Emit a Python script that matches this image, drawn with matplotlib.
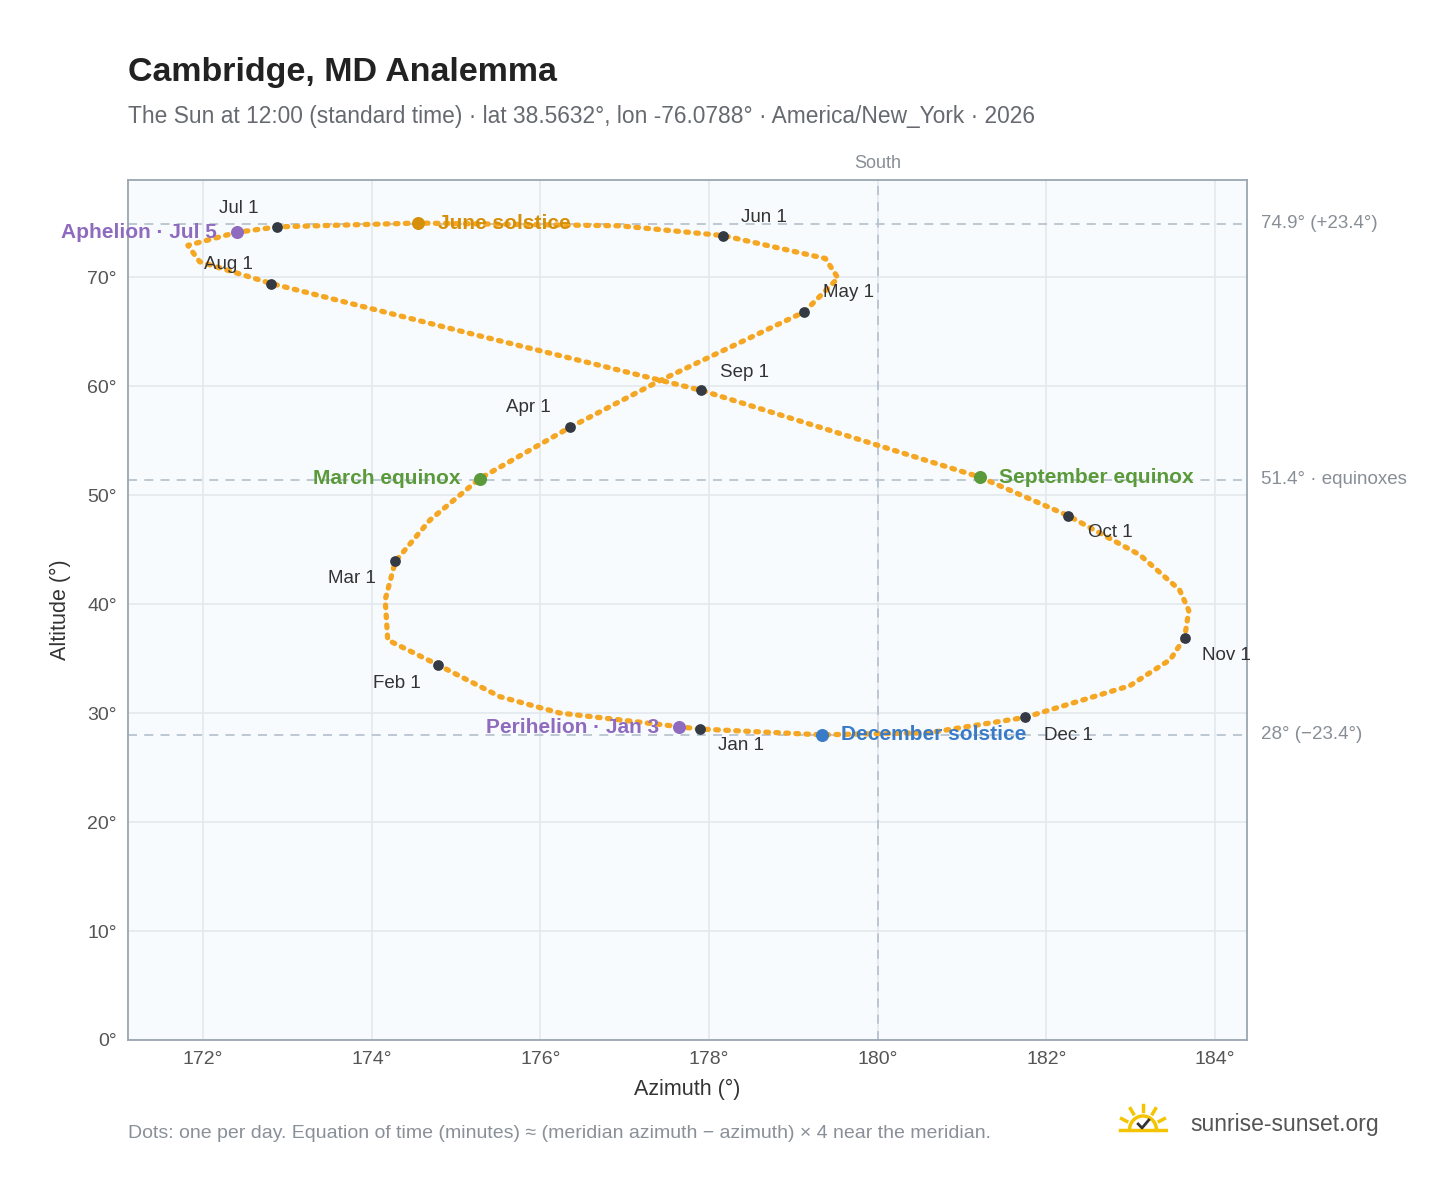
import matplotlib.pyplot as plt
import numpy as np

plt.rcParams['font.family'] = ['Liberation Sans', 'DejaVu Sans']

# points (azimuth, altitude), running through the year
path_az = [177.89, 176.23, 175.52, 174.79, 174.19, 174.16, 174.28, 174.69, 175.28, 176.35, 177.42,
           179.13, 179.53, 179.38, 178.17, 176.94, 174.55, 172.88, 172.40, 171.82, 171.96,
           172.81, 175.28, 177.91, 181.21, 182.26, 183.11, 183.58, 183.69, 183.64, 183.47,
           182.99, 181.75, 180.62, 179.34, 177.89]
path_alt = [28.53, 30.0, 31.5, 34.4, 36.7, 40.4, 43.9, 47.7, 51.5, 56.2, 60.5,
            66.8, 69.9, 71.7, 73.8, 74.7, 74.95, 74.6, 74.1, 72.9, 71.4,
            69.4, 64.6, 59.6, 51.65, 48.1, 44.5, 41.3, 39.4, 36.9, 34.9,
            32.5, 29.6, 28.2, 28.0, 28.53]

months = ["Jan 1", "Feb 1", "Mar 1", "Apr 1", "May 1", "Jun 1",
          "Jul 1", "Aug 1", "Sep 1", "Oct 1", "Nov 1", "Dec 1"]
month_az = [177.89, 174.79, 174.28, 176.35, 179.13, 178.17, 172.88, 172.81, 177.91, 182.26, 183.64, 181.75]
month_alt = [28.53, 34.4, 43.9, 56.2, 66.8, 73.8, 74.6, 69.4, 59.6, 48.1, 36.9, 29.6]
month_off = [(30, -12), (-30, -13), (-31, -12), (-30, 14), (32, 14), (29, 13),
             (-28, 13), (-31, 14), (31, 13), (30, -12), (30, -13), (31, -13)]

events = ["March equinox", "June solstice", "September equinox", "December solstice",
          "Aphelion · Jul 5", "Perihelion · Jan 3"]
event_az = [175.28, 174.55, 181.21, 179.34, 172.40, 177.64]
event_alt = [51.5, 74.95, 51.65, 28.0, 74.1, 28.7]
event_col = ["#5a9a3a", "#d4900a", "#5a9a3a", "#3a7bc8", "#8e6bbf", "#8e6bbf"]
event_side = ["left", "right", "right", "right", "left", "left"]

ref_alt = [74.9, 51.4, 28.0]
ref_lab = ["74.9° (+23.4°)", "51.4° · equinoxes", "28° (−23.4°)"]

fig = plt.figure(figsize=(14.48, 11.88), dpi=100)
ax = fig.add_axes([128/1448, 1-1040/1188, (1247-128)/1448, (1040-180)/1188])
ax.set_facecolor("#f8fbfd")
ax.set_xlim(171.11, 184.38)
ax.set_ylim(0, 78.9)
ax.set_xticks(range(172, 185, 2))
ax.set_xticklabels([f"{v}°" for v in range(172, 185, 2)])
ax.set_yticks(range(0, 71, 10))
ax.set_yticklabels([f"{v}°" for v in range(0, 71, 10)])
ax.grid(color="#e3e8ee", lw=1.2)
ax.set_axisbelow(True)
for s in ax.spines.values():
    s.set_color("#9aa6b2")
    s.set_linewidth(1.3)
ax.tick_params(colors="#555", labelsize=14, length=0, pad=8)

for a, l in zip(ref_alt, ref_lab):
    ax.axhline(a, color="#b8c4d0", ls=(0, (5, 4)), lw=1.3, zorder=1)
    ax.annotate(l, (1, a), xycoords=("axes fraction", "data"), xytext=(10, 0),
                textcoords="offset points", va="center", fontsize=13.5, color="#888e96")
ax.axvline(180, color="#b8c4d0", ls=(0, (5, 4)), lw=1.3, zorder=1)
ax.annotate("South", (180, 1), xycoords=("data", "axes fraction"), xytext=(0, 9),
            textcoords="offset points", ha="center", fontsize=13, color="#888e96")

ax.plot(path_az, path_alt, color="#f5a623", lw=3.8, ls=(0, (0.5, 1.4)),
        solid_capstyle="round", dash_capstyle="round", zorder=2)

ax.scatter(month_az, month_alt, s=45, color="#333a44", zorder=4)
for m, x, y, o in zip(months, month_az, month_alt, month_off):
    ax.annotate(m, (x, y), xytext=o, textcoords="offset points", fontsize=13.5,
                color="#333", va="center", ha="center")

for e, x, y, c, side in zip(events, event_az, event_alt, event_col, event_side):
    ax.scatter([x], [y], s=70, color=c, zorder=5)
    dx = -14 if side == "left" else 14
    ax.annotate(e, (x, y), xytext=(dx, 0), textcoords="offset points", fontsize=15,
                color=c, fontweight="bold", va="center",
                ha="right" if side == "left" else "left")

ax.set_xlabel("Azimuth (°)", fontsize=15.5, color="#333", labelpad=8)
ax.set_ylabel("Altitude (°)", fontsize=15.5, color="#333", labelpad=12)

fig.text(128/1448, 1-73/1188, "Cambridge, MD Analemma", fontsize=24.5, fontweight="bold",
         color="#222", va="center")
fig.text(128/1448, 1-117/1188,
         "The Sun at 12:00 (standard time) · lat 38.5632°, lon -76.0788° · America/New_York · 2026",
         fontsize=16.4, color="#666a70", va="center")
fig.text(128/1448, 1-1134/1188,
         "Dots: one per day. Equation of time (minutes) ≈ (meridian azimuth − azimuth) × 4 near the meridian.",
         fontsize=14, color="#8a9098", va="center")
fig.text(1190/1448, 1-1125/1188, "sunrise-sunset.org", fontsize=16.5, color="#555", va="center")

# small sun logo
lg = fig.add_axes([1118/1448, 1-1140/1188, 50/1448, 40/1188])
lg.set_xlim(-1.3, 1.3); lg.set_ylim(-0.6, 1.4); lg.axis("off")
t = np.linspace(0, np.pi, 50)
lg.plot(0.7*np.cos(t), 0.7*np.sin(t)-0.1, color="#f5c400", lw=2.5)
for ang in np.linspace(0.15*np.pi, 0.85*np.pi, 5):
    lg.plot([0.95*np.cos(ang), 1.25*np.cos(ang)], [0.95*np.sin(ang)-0.1, 1.25*np.sin(ang)-0.1],
            color="#f5c400", lw=2.5)
lg.plot([-1.2, 1.2], [-0.1, -0.1], color="#f5c400", lw=2.5)
lg.plot([-0.25, -0.05, 0.3], [0.2, 0.0, 0.4], color="#333", lw=2)

fig.savefig("out.png", dpi=100)
